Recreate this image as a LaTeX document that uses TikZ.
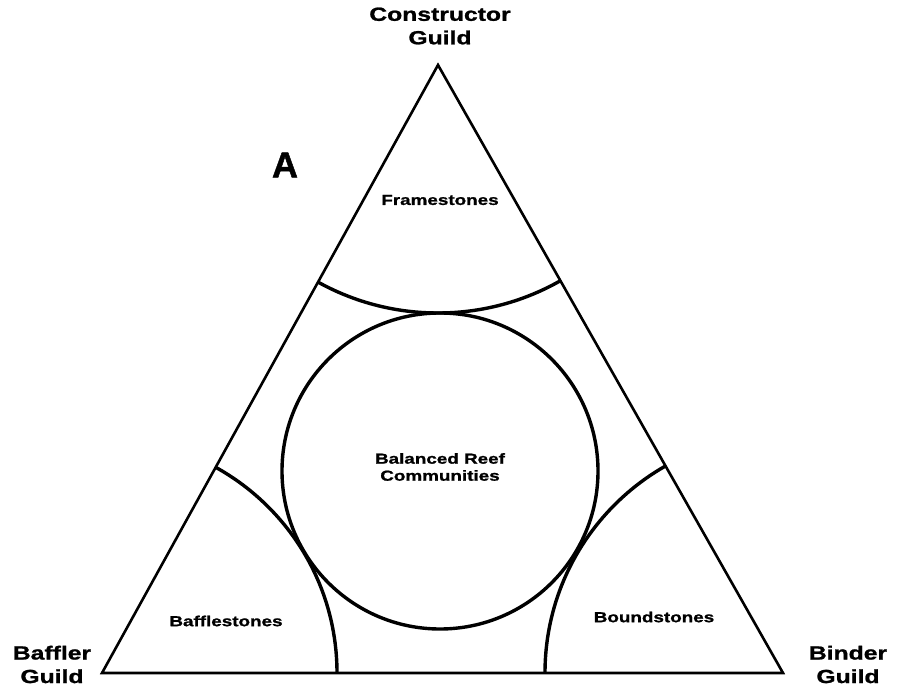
\documentclass[tikz,border=0pt]{standalone}
\usepackage{fontspec}
\setmainfont{Liberation Sans}[FakeStretch=1.3,BoldFeatures={FakeBold=1.2}]
\newfontfamily\letterfont{Liberation Sans}[BoldFeatures={FakeBold=1.2}]
\begin{document}
\begin{tikzpicture}[x=1pt,y=-1pt,
  guild/.style={font=\bfseries\fontsize{19}{23.5}\selectfont,align=center,inner sep=0pt},
  field/.style={font=\bfseries\fontsize{14.5}{17}\selectfont,align=center,inner sep=0pt},
  edge/.style={line width=2.6pt,line join=miter},
  curve/.style={line width=3.4pt}]
\useasboundingbox (0,0) rectangle (903,692);
\coordinate (T) at (438,65);
\coordinate (L) at (102,673);
\coordinate (R) at (783,673);
\coordinate (O) at (440,471);
% arcs around the vertices, clipped to the triangle
\begin{scope}
  \clip (T) -- (L) -- (R) -- cycle;
  \draw[curve] (T) circle[radius=248pt];
  \draw[curve] (L) circle[radius=235pt];
  \draw[curve] (R) circle[radius=238pt];
\end{scope}
\draw[edge] (T) -- (L) -- (R) -- cycle;
\draw[curve] (O) circle[radius=158pt];
% labels
\node[guild] (cg) at (440,26) {Constructor\\Guild};
\node[guild] (bg) at (52,664.5) {Baffler\\Guild};
\node[guild] (ng) at (848,664.5) {Binder\\Guild};
\node[inner sep=0pt,font=\letterfont\bfseries\fontsize{36}{40}\selectfont] (a) at (285,165) {A};
\node[field] (fs) at (440,200) {Framestones};
\node[field] (br) at (440,467) {Balanced Reef\\Communities};
\node[field] (bf) at (226,621) {Bafflestones};
\node[field] (bd) at (654,617) {Boundstones};
\end{tikzpicture}
\end{document}
